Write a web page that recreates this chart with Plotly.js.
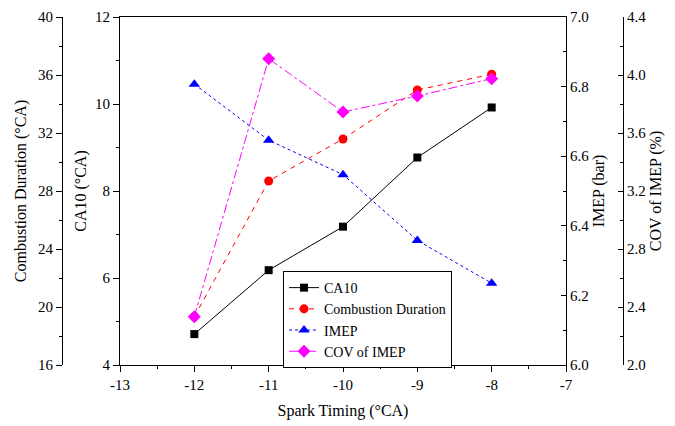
<!DOCTYPE html>
<html><head><meta charset="utf-8">
<script src="https://cdn.plot.ly/plotly-3.0.1.min.js"></script>
<style>body{margin:0;background:#fff}#c{width:675px;height:426px}</style>
</head><body><div id="c"></div>
<script>
const sparkTiming = [-12, -11, -10, -9, -8];
const ca10 = [4.71, 6.18, 7.18, 8.77, 9.92];
const combustionDuration = [19.33, 28.69, 31.59, 34.97, 36.05];
const imep = [6.807, 6.646, 6.547, 6.358, 6.235];
const covImep = [2.333, 4.112, 3.745, 3.855, 3.975];
const xTickVals = [-13, -12, -11, -10, -9, -8, -7];
const xTickText = ['-13', '-12', '-11', '-10', '-9', '-8', '-7'];

const F = '"Liberation Serif", "Times New Roman", "DejaVu Serif", serif';
const traces = [
  {x: sparkTiming, y: ca10, name: 'CA10', yaxis: 'y', mode: 'lines+markers',
   line: {color: '#000', width: 1}, marker: {symbol: 'square', size: 8, color: '#000'}},
  {x: sparkTiming, y: combustionDuration, name: 'Combustion Duration', yaxis: 'y2', mode: 'lines+markers',
   line: {color: '#ff0000', width: 1, dash: '5px,5px'}, marker: {symbol: 'circle', size: 9, color: '#ff0000'}},
  {x: sparkTiming, y: imep, name: 'IMEP', yaxis: 'y3', mode: 'lines+markers',
   line: {color: '#0000ff', width: 1, dash: 'dot'}, marker: {symbol: 'triangle-up', size: 10, color: '#0000ff'}},
  {x: sparkTiming, y: covImep, name: 'COV of IMEP', yaxis: 'y4', mode: 'lines+markers',
   line: {color: '#ff00ff', width: 1, dash: 'dashdot'}, marker: {symbol: 'diamond', size: 10, color: '#ff00ff'}}
];
const common = {showgrid: false, zeroline: false, showline: true, linecolor: '#000', linewidth: 1,
  tickfont: {family: F, size: 15, color: '#000'}, tickcolor: '#000'};
const tf = {family: F, size: 16, color: '#000'};
const layout = {
  width: 675, height: 426, margin: {l: 0, r: 0, t: 17, b: 61},
  paper_bgcolor: '#fff', plot_bgcolor: '#fff', font: {family: F, color: '#000'},
  showlegend: true,
  legend: {x: 0.4193, y: 0.27, xanchor: 'left', yanchor: 'top', bordercolor: '#000', borderwidth: 1,
    bgcolor: '#fff', font: {family: F, size: 14, color: '#000'}, tracegroupgap: 0},
  xaxis: Object.assign({}, common, {domain: [120/675, 566/675], range: [-13, -7],
    tickmode: 'array', tickvals: xTickVals, ticktext: xTickText,
    ticks: 'outside', ticklen: 6, mirror: true,
    minor: {dtick: 0.5, ticks: 'outside', ticklen: 3, tickcolor: '#000'},
    title: {text: 'Spark Timing (°CA)', font: tf, standoff: 12}}),
  yaxis: Object.assign({}, common, {range: [4, 12], dtick: 2, ticks: 'outside', ticklen: 6, mirror: true,
    minor: {dtick: 1, ticks: 'outside', ticklen: 3, tickcolor: '#000'},
    title: {text: 'CA10 (°CA)', font: tf, standoff: 4}}),
  yaxis2: Object.assign({}, common, {overlaying: 'y', side: 'left', anchor: 'free', position: 62/675,
    range: [16, 40], dtick: 4, ticks: 'outside', ticklen: 6,
    minor: {dtick: 2, ticks: 'outside', ticklen: 3, tickcolor: '#000'},
    title: {text: 'Combustion Duration (°CA)', font: tf, standoff: 6}}),
  yaxis3: Object.assign({}, common, {overlaying: 'y', side: 'right', anchor: 'x',
    range: [6, 7], dtick: 0.2, tickformat: '.1f', ticks: 'inside', ticklen: 5,
    minor: {dtick: 0.1, ticks: 'inside', ticklen: 3, tickcolor: '#000'},
    title: {text: 'IMEP (bar)', font: tf, standoff: 4}}),
  yaxis4: Object.assign({}, common, {overlaying: 'y', side: 'right', anchor: 'free', position: 623/675,
    range: [2, 4.4], dtick: 0.4, tickformat: '.1f', ticks: 'inside', ticklen: 5,
    minor: {dtick: 0.2, ticks: 'inside', ticklen: 3, tickcolor: '#000'},
    title: {text: 'COV of IMEP (%)', font: tf, standoff: 4}})
};
Plotly.newPlot('c', traces, layout, {displayModeBar: false, staticPlot: true});
</script></body></html>
